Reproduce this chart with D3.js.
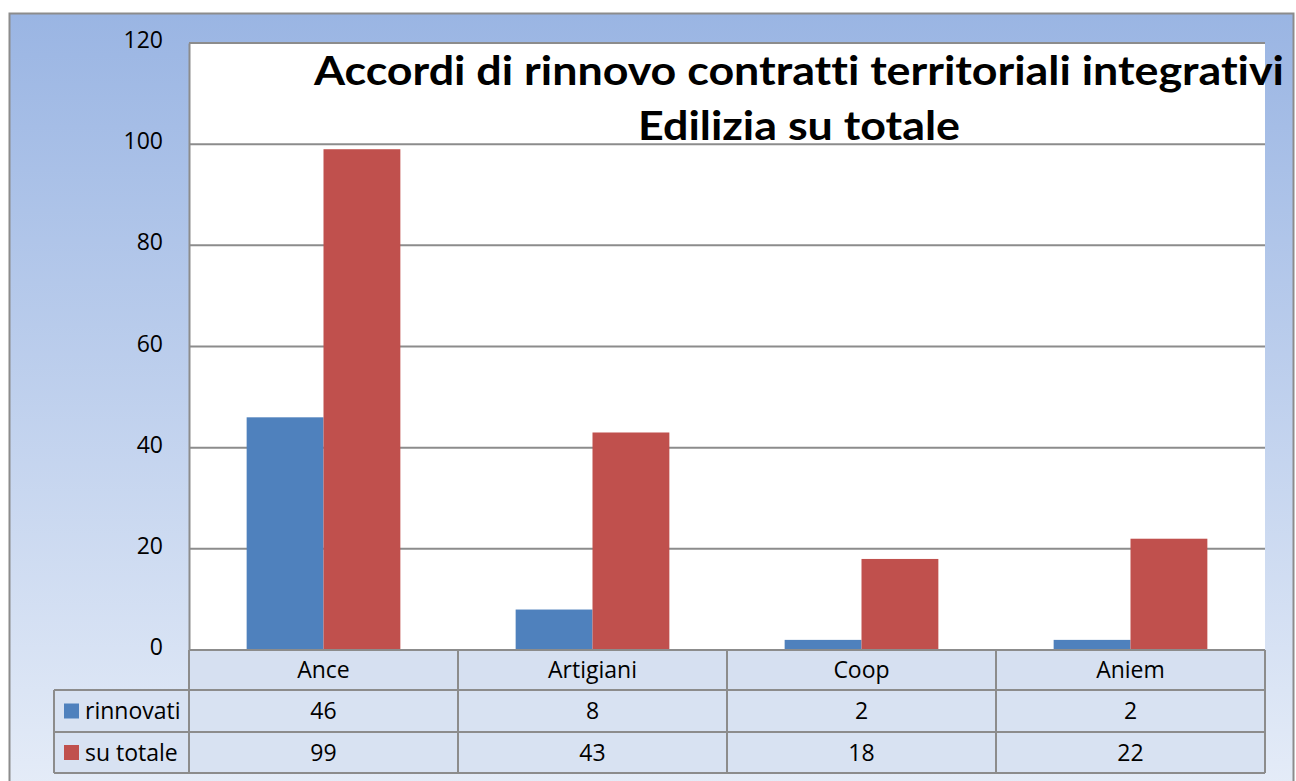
<!DOCTYPE html>
<html>
<head>
<meta charset="utf-8">
<script src="https://cdn.jsdelivr.net/npm/d3@7"></script>
<style>
  body { margin: 0; background: #fff; }
  svg { display: block; }
  text { font-family: "Open Sans", sans-serif; font-variant-ligatures: none; }
</style>
</head>
<body>
<svg id="chart" width="1296" height="781"></svg>
<script>
// Data
const categories = ["Ance", "Artigiani", "Coop", "Aniem"];
const seriesNames = ["rinnovati", "su totale"];
const rinnovati = [46, 8, 2, 2];
const suTotale = [99, 43, 18, 22];
const yTicks = [0, 20, 40, 60, 80, 100, 120];
const titleLines = ["Accordi di rinnovo contratti territoriali integrativi", "Edilizia su totale"];

const colors = ["#4f81bd", "#c0504d"];
const seriesValues = [rinnovati, suTotale];

const svg = d3.select("#chart");

//Background gradient
const defs = svg.append("defs");
const grad = defs.append("linearGradient")
  .attr("id", "bg")
  .attr("x1", 0).attr("y1", 0).attr("x2", 0).attr("y2", 1);
grad.append("stop").attr("offset", "0%").attr("stop-color", "#9ab5e3");
grad.append("stop").attr("offset", "100%").attr("stop-color", "#e6edf8");

svg.append("rect")
  .attr("x", 9.5).attr("y", 13.5)
  .attr("width", 1284).attr("height", 790)
  .attr("fill", "url(#bg)")
  .attr("stroke", "#8c8c8c")
  .attr("stroke-width", 2);

//Plot area
const plot = { left: 189, right: 1265, top: 43, bottom: 650 };

const x = d3.scaleBand()
  .domain(categories)
  .range([plot.left, plot.right])
  .padding(0);

// Excel gap width 150%: bar = band / 3.5
const barW = x.bandwidth() / 3.5;
const xs = d3.scaleBand()
  .domain(seriesNames)
  .range([barW * 0.75, barW * 0.75 + barW * 2]);

const y = d3.scaleLinear()
  .domain([0, 120])
  .range([plot.bottom, plot.top]);

svg.append("rect")
  .attr("x", plot.left).attr("y", plot.top)
  .attr("width", plot.right - plot.left)
  .attr("height", plot.bottom - plot.top)
  .attr("fill", "#fff");

//Gridlines
svg.append("g")
  .selectAll("line")
  .data(yTicks)
  .join("line")
  .attr("x1", plot.left).attr("x2", plot.right)
  .attr("y1", d => y(d)).attr("y2", d => y(d))
  .attr("stroke", "#8c8c8c")
  .attr("stroke-width", 2);

//Bars
const bars = svg.append("g");
seriesNames.forEach((s, si) => {
  bars.selectAll(null)
    .data(categories)
    .join("rect")
    .attr("x", c => x(c) + xs(s))
    .attr("y", (c, i) => y(seriesValues[si][i]))
    .attr("width", xs.bandwidth())
    .attr("height", (c, i) => y(0) - y(seriesValues[si][i]))
    .attr("fill", colors[si]);
});

//Y axis
const yAxis = svg.append("g")
  .attr("transform", `translate(${plot.left},0)`)
  .call(d3.axisLeft(y).tickValues(yTicks).tickSize(0).tickPadding(26));
yAxis.select(".domain").attr("stroke", "#8c8c8c").attr("stroke-width", 2);
yAxis.selectAll("text")
  .style("font-family", "'Open Sans', sans-serif")
  .style("font-size", "23px")
  .attr("fill", "#000")
  .attr("dy", "0.2em");

//Title
const titleWidths = [970, 322];
svg.append("g")
  .selectAll("text")
  .data(titleLines)
  .join("text")
  .attr("x", 799)
  .attr("y", (d, i) => 85 + i * 55)
  .attr("text-anchor", "middle")
  .attr("textLength", (d, i) => titleWidths[i])
  .attr("lengthAdjust", "spacingAndGlyphs")
  .style("font-family", "Lato, sans-serif")
  .style("font-size", "41px")
  .style("font-weight", "bold")
  .attr("fill", "#000")
  .text(d => d);

//Data table
const rowY = [650, 690, 732, 773];
const tableLeft = 54;
const table = svg.append("g");

const tableRows = [{ label: null, vals: categories }]
  .concat(seriesNames.map((s, si) => ({ label: s, vals: seriesValues[si] })));

table.append("rect")
  .attr("x", plot.left).attr("y", rowY[0])
  .attr("width", plot.right - plot.left).attr("height", rowY[1] - rowY[0])
  .attr("fill", "#d6e0f1");
table.append("rect")
  .attr("x", tableLeft).attr("y", rowY[1])
  .attr("width", plot.right - tableLeft).attr("height", rowY[3] - rowY[1])
  .attr("fill", "#d8e2f2");

const gridStroke = "#8c8c8c";
// horizontal lines
rowY.forEach((ry, i) => {
  table.append("line")
    .attr("x1", i === 0 ? plot.left : tableLeft).attr("x2", plot.right)
    .attr("y1", ry).attr("y2", ry)
    .attr("stroke", gridStroke).attr("stroke-width", 2);
});
// vertical lines
const vx = [plot.left].concat(categories.map(c => x(c) + x.bandwidth()));
vx.forEach(v => {
  table.append("line")
    .attr("x1", v).attr("x2", v)
    .attr("y1", rowY[0]).attr("y2", rowY[3])
    .attr("stroke", gridStroke).attr("stroke-width", 2);
});
table.append("line")
  .attr("x1", tableLeft).attr("x2", tableLeft)
  .attr("y1", rowY[1]).attr("y2", rowY[3])
  .attr("stroke", gridStroke).attr("stroke-width", 2);

tableRows.forEach((row, ri) => {
  const mid = (rowY[ri] + rowY[ri + 1]) / 2;
  table.selectAll(null)
    .data(row.vals)
    .join("text")
    .attr("x", (d, i) => x(categories[i]) + x.bandwidth() / 2)
    .attr("y", mid + 8)
    .attr("text-anchor", "middle")
    .style("font-size", "23px")
    .attr("fill", "#000")
    .text(d => d);
  if (row.label) {
    table.append("rect")
      .attr("x", 64).attr("y", mid - 7.5)
      .attr("width", 15).attr("height", 15)
      .attr("fill", colors[ri - 1]);
    table.append("text")
      .attr("x", 85).attr("y", mid + 8)
      .style("font-size", "23px")
      .attr("fill", "#000")
      .text(row.label);
  }
});
</script>
</body>
</html>
